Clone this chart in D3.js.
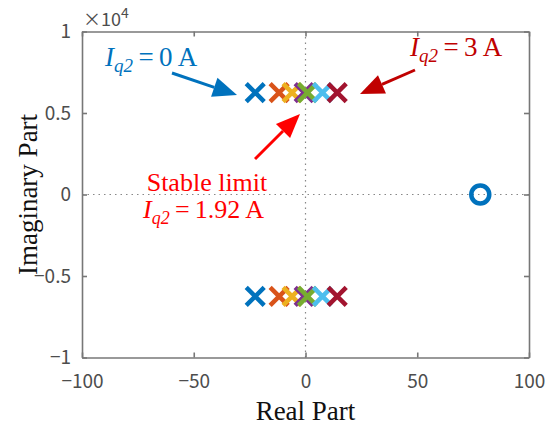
<!DOCTYPE html>
<html>
<head>
<meta charset="utf-8">
<script src="https://cdn.jsdelivr.net/npm/d3@7"></script>
<style>
  body { margin: 0; background: #fff; }
  svg text { font-family: "Liberation Serif", serif; }
</style>
</head>
<body>
<div id="chart"></div>
<script>
// pole locations for Iq2 = 0 ... 3 A
const currents = [0, 0.5, 1, 1.5, 2, 2.5, 3];
const realParts = [-22.5, -11.8, -6.0, -0.6, 0.9, 7.6, 14.2];
const imagParts = [6250, 6250, 6250, 6250, 6250, 6250, 6250];
const colors = ["#0072BD", "#D95319", "#EDB120", "#7E2F8E", "#77AC30", "#4DBEEE", "#A2142F"];
const zeroReal = [78.2];
const zeroImag = [0];
const xTicks = [-100, -50, 0, 50, 100];
const yTicks = [-1, -0.5, 0, 0.5, 1];

const W = 555, H = 427;
const M = { top: 31.5, right: 26, bottom: 69.5, left: 82 };

const svg = d3.select("#chart").append("svg")
    .attr("width", W)
    .attr("height", H);

const x = d3.scaleLinear().domain([-100, 100]).range([M.left, W - M.right]);
const y = d3.scaleLinear().domain([-1e4, 1e4]).range([H - M.bottom, M.top]);

// zero lines
svg.append("line")
    .attr("x1", x(0)).attr("x2", x(0))
    .attr("y1", y(1e4)).attr("y2", y(-1e4))
    .attr("stroke", "#888").attr("stroke-width", 1.2)
    .attr("stroke-dasharray", "1.5,4");
svg.append("line")
    .attr("x1", x(-100)).attr("x2", x(100))
    .attr("y1", y(0)).attr("y2", y(0))
    .attr("stroke", "#888").attr("stroke-width", 1.2)
    .attr("stroke-dasharray", "1.5,4");

const fmt = v => v < 0 ? "\u2212" + Math.abs(v) : "" + v;

// axes
svg.append("g")
    .attr("transform", "translate(0," + y(-1e4) + ")")
    .call(d3.axisBottom(x).tickValues(xTicks).tickSizeInner(-5).tickSizeOuter(0).tickPadding(17)
        .tickFormat(fmt));
svg.append("g")
    .attr("transform", "translate(" + x(-100) + ",0)")
    .call(d3.axisLeft(y).tickValues(yTicks.map(v => v * 1e4)).tickSizeInner(-5).tickSizeOuter(0).tickPadding(11)
        .tickFormat(d => fmt(d / 1e4)));
// top / right tick marks
svg.append("g")
    .attr("transform", "translate(0," + y(1e4) + ")")
    .call(d3.axisTop(x).tickValues(xTicks).tickSizeInner(-5).tickSizeOuter(0).tickFormat(""));
svg.append("g")
    .attr("transform", "translate(" + x(100) + ",0)")
    .call(d3.axisRight(y).tickValues(yTicks.map(v => v * 1e4)).tickSizeInner(-5).tickSizeOuter(0).tickFormat(""));

svg.selectAll(".domain, .tick line").attr("stroke", "#777").attr("stroke-width", 1.6);
svg.selectAll(".tick text")
    .attr("fill", "#4d4d4d")
    .style("font-family", "'Noto Sans CJK JP', 'Noto Sans', sans-serif")
    .style("font-size", "19px");

// exponent label
const expo = svg.append("text")
    .attr("x", 83).attr("y", 26)
    .attr("fill", "#4d4d4d")
    .style("font-family", "'Noto Sans CJK JP', 'Noto Sans', sans-serif")
    .style("font-size", "18px");
expo.append("tspan").text("\u00d710");
expo.append("tspan").attr("dy", -8).style("font-size", "14px").text("4");

// axis labels
svg.append("text")
    .attr("x", x(0)).attr("y", 420)
    .attr("text-anchor", "middle")
    .style("font-size", "27px")
    .attr("fill", "#111")
    .text("Real Part");
svg.append("text")
    .attr("transform", "translate(37," + y(0) + ") rotate(-90)")
    .attr("text-anchor", "middle")
    .style("font-size", "27px")
    .attr("fill", "#111")
    .text("Imaginary Part");

// poles (crosses), both conjugates
const cs = 9;
currents.forEach((c, i) => {
    [imagParts[i], -imagParts[i]].forEach(im => {
        const cx = x(realParts[i]), cy = y(im);
        svg.append("path")
            .attr("d", `M${cx - cs},${cy - cs}L${cx + cs},${cy + cs}M${cx - cs},${cy + cs}L${cx + cs},${cy - cs}`)
            .attr("stroke", colors[i])
            .attr("stroke-width", 4.5)
            .attr("fill", "none");
    });
});

// zero (circle)
svg.selectAll("circle.zero")
    .data(zeroReal)
    .enter()
    .append("circle")
    .attr("class", "zero")
    .attr("cx", d => x(d))
    .attr("cy", (d, i) => y(zeroImag[i]))
    .attr("r", 9)
    .attr("fill", "none")
    .attr("stroke", "#0072BD")
    .attr("stroke-width", 4.5);

// annotations
function arrow(x1, y1, x2, y2, color) {
    const ang = Math.atan2(y2 - y1, x2 - x1);
    const L = 24, Wd = 10;
    const bx = x2 - L * Math.cos(ang), by = y2 - L * Math.sin(ang);
    svg.append("line")
        .attr("x1", x1).attr("y1", y1).attr("x2", bx).attr("y2", by)
        .attr("stroke", color).attr("stroke-width", 3);
    const px = -Math.sin(ang) * Wd, py = Math.cos(ang) * Wd;
    svg.append("path")
        .attr("d", `M${x2},${y2}L${bx + px},${by + py}L${bx - px},${by - py}Z`)
        .attr("fill", color);
}

function iq2Label(tx, ty, rest, color, size) {
    const t = svg.append("text")
        .attr("x", tx).attr("y", ty)
        .attr("fill", color)
        .style("font-size", size + "px");
    t.append("tspan").style("font-style", "italic").text("I");
    t.append("tspan").style("font-style", "italic").style("font-size", Math.round(size * 0.7) + "px").attr("dy", 6).text("q2");
    t.append("tspan").attr("dy", -6).text("\u2009=\u2009" + rest);
    return t;
}

arrow(172, 73, 237, 95, "#0072BD");
iq2Label(105, 66, "0 A", "#0072BD", 27);

arrow(415, 70, 360, 94, "#C00000");
iq2Label(410, 56, "3 A", "#C00000", 27);

arrow(255, 159, 300, 114, "#FF0000");
svg.append("text")
    .attr("x", 207).attr("y", 191)
    .attr("text-anchor", "middle")
    .attr("fill", "#FF0000")
    .style("font-size", "26px")
    .text("Stable limit");
iq2Label(143, 218, "1.92 A", "#FF0000", 26);
</script>
</body>
</html>
